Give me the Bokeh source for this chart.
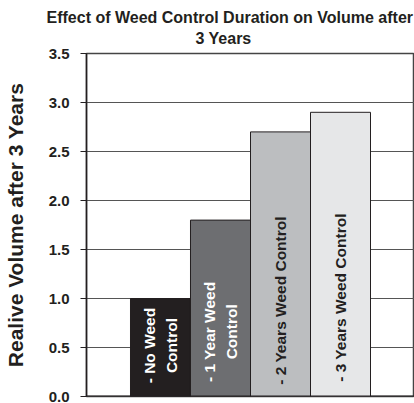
import math
from bokeh.plotting import figure
from bokeh.models import Range1d, FixedTicker, NumeralTickFormatter, Title, ColumnDataSource, Span
from bokeh.core.properties import value
from bokeh.embed import file_html
from bokeh.resources import INLINE

# ---- data ----
categories = ["- No Weed\nControl", "- 1 Year Weed\nControl",
              "- 2 Years Weed Control", "- 3 Years Weed Control"]
volumes = [1.0, 1.8, 2.7, 2.9]
bar_colors = ["#231f20", "#6d6e71", "#bcbec0", "#e6e7e8"]
label_colors = ["#ffffff", "#ffffff", "#231f20", "#231f20"]
label_pos = [0.52, 0.66, 0.98, 1.01]   # where each in-bar label is centred
y_ticks = [0.0, 0.5, 1.0, 1.5, 2.0, 2.5, 3.0, 3.5]
title_lines = ["Effect of Weed Control Duration on Volume after", "3 Years"]

FONT = "Liberation Sans"

xs = [i + 1 for i in range(len(categories))]
src = ColumnDataSource(dict(x=xs, top=volumes, color=bar_colors,
                            label=categories, ly=label_pos, lc=label_colors))

p = figure(width=414, height=403, output_backend="svg", toolbar_location=None,
           x_range=Range1d(-0.2333, 5.2333), y_range=Range1d(0, 3.5),
           min_border_left=86, min_border_right=0, min_border_top=53, min_border_bottom=7)

# title lines: first added sits closest to the plot
p.add_layout(Title(text=title_lines[1], align="left", text_font=FONT, text_font_size="16px",
                   text_font_style="bold", text_color="#231f20", offset=109,
                   standoff=14), "above")
p.add_layout(Title(text=title_lines[0], align="left", text_font=FONT, text_font_size="16px",
                   text_font_style="bold", text_color="#231f20", offset=-40,
                   standoff=-10), "above")

p.vbar(x="x", top="top", width=1.0, bottom=0, source=src, fill_color="color",
       line_color="#231f20", line_width=1)

p.text(x="x", y="ly", text="label", source=src, angle=math.pi / 2,
       text_align="center", text_baseline="middle", text_color="lc",
       text_font=value(FONT), text_font_size="15.5px", text_font_style="bold",
       text_line_height=1.3)

# baseline
p.add_layout(Span(location=0, dimension="width", line_color="#231f20", line_width=2))

# y axis
p.yaxis.ticker = FixedTicker(ticks=y_ticks)
p.yaxis.formatter = NumeralTickFormatter(format="0.0")
p.yaxis.axis_label = "Realive Volume after 3 Years"
p.yaxis.axis_label_text_font = FONT
p.yaxis.axis_label_text_font_size = "21px"
p.yaxis.axis_label_text_font_style = "bold"
p.yaxis.axis_label_text_color = "#231f20"
p.yaxis.axis_label_standoff = 19
p.yaxis.major_label_text_font = FONT
p.yaxis.major_label_text_font_size = "15px"
p.yaxis.major_label_text_font_style = "bold"
p.yaxis.major_label_text_color = "#231f20"
p.yaxis.major_label_standoff = 11
p.yaxis.major_tick_in = 0
p.yaxis.major_tick_out = 6
p.yaxis.minor_tick_line_color = None
p.yaxis.axis_line_color = "#231f20"
p.yaxis.axis_line_width = 1.5
p.yaxis.major_tick_line_color = "#231f20"

p.xaxis.visible = False

p.xgrid.grid_line_color = None
p.ygrid.grid_line_color = "#555555"
p.ygrid.grid_line_width = 1.2

p.outline_line_color = "#444444"
p.outline_line_width = 1.5
p.background_fill_color = "white"
p.border_fill_color = "white"

open("out.html", "w").write(file_html(p, INLINE))
